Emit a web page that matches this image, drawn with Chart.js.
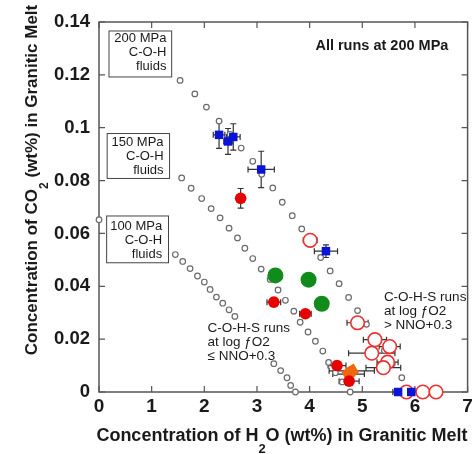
<!DOCTYPE html>
<html>
<head>
    <title>CO2 vs H2O in Granitic Melt</title>
    <script src="https://cdn.jsdelivr.net/npm/chart.js@4.4.0/dist/chart.umd.min.js"></script>
    <style>
        body { margin: 0; background: #fff; }
    </style>
</head>
<body>
    <canvas id="meltChart" width="476" height="454"></canvas>

    <script>
        // C-O-H fluid saturation isobars (model curves)
        const h2o200 = [1.54, 1.82, 2.04, 2.28, 2.49, 2.70, 2.92, 3.09, 3.30, 3.48, 3.67, 3.85, 4.01, 4.21, 4.39, 4.56, 4.74, 4.91, 5.08, 5.24, 5.42, 5.57, 5.75];
        const co2_200 = [0.1179, 0.1128, 0.1078, 0.1025, 0.0975, 0.0923, 0.0873, 0.0824, 0.0772, 0.0718, 0.0667, 0.0617, 0.0561, 0.0509, 0.0458, 0.0410, 0.0358, 0.0308, 0.0256, 0.0208, 0.0157, 0.0107, 0.0054];

        const h2o150 = [1.57, 1.75, 1.95, 2.13, 2.30, 2.47, 2.63, 2.77, 2.92, 3.08, 3.25, 3.40, 3.54, 3.70, 3.82, 3.97, 4.11, 4.25, 4.36, 4.49, 4.62, 4.77];
        const co2_150 = [0.0810, 0.0771, 0.0732, 0.0694, 0.0659, 0.0620, 0.0583, 0.0544, 0.0505, 0.0465, 0.0426, 0.0386, 0.0347, 0.0306, 0.0264, 0.0227, 0.0192, 0.0155, 0.0112, 0.0073, 0.0038, 0];

        const h2o100 = [0, 1.45, 1.59, 1.73, 1.87, 2.00, 2.11, 2.23, 2.35, 2.47, 2.58, 3.32, 3.45, 3.57, 3.64, 3.73];
        const co2_100 = [0.0652, 0.0520, 0.0494, 0.0467, 0.0439, 0.0416, 0.0388, 0.0359, 0.0336, 0.0311, 0.0286, 0.0107, 0.0081, 0.0054, 0.0025, 0];

        // C-O-H runs (blue squares)
        const blueH2o = [2.28, 2.45, 2.55, 3.08, 4.31, 5.68, 5.93];
        const blueCo2 = [0.0973, 0.0948, 0.0965, 0.0842, 0.0533, 0, 0];
        const blueH2oErr = [0.11, 0.08, 0.13, 0.25, 0.22, 0.1, 0.1];
        const blueCo2Err = [0.0051, 0.0049, 0.005, 0.0069, 0.0024, 0, 0];

        // C-O-H-S runs, low fO2 (red filled)
        const redH2o = [2.69, 3.32, 3.92, 4.52, 4.75];
        const redCo2 = [0.0733, 0.0340, 0.0296, 0.0100, 0.0041];
        const redH2oErr = [0.05, 0.13, 0.11, 0.17, 0.19];
        const redCo2Err = [0.0037, 0, 0, 0, 0];

        const greenH2o = [3.35, 3.98, 4.23];
        const greenCo2 = [0.0441, 0.0425, 0.0334];
        const greenH2oErr = [0.12, 0.12, 0.12];

        const orangeH2o = [4.80, 4.74];
        const orangeCo2 = [0.0080, 0.0068];
        const orangeH2oErr = [0.43, 0.3];

        // C-O-H-S runs, high fO2 (red open)
        const openH2o = [4.01, 4.91, 5.24, 5.52, 5.18, 5.48, 5.40, 5.84, 6.15, 6.40];
        const openCo2 = [0.0574, 0.0262, 0.0198, 0.0172, 0.0147, 0.0113, 0.0092, 0, 0, 0];
        const openH2oErr = [0.13, 0.2, 0.22, 0.2, 0.44, 0.2, 0.33, 0.1, 0, 0];
        const openCo2Err = [0.0022, 0, 0, 0, 0, 0, 0, 0, 0, 0];

        const xTickLabels = ['0', '1', '2', '3', '4', '5', '6', '7'];
        const yTickLabels = ['0', '0.02', '0.04', '0.06', '0.08', '0.1', '0.12', '0.14'];

        const FONT = "'Liberation Sans', Arial, Helvetica, sans-serif";
        const INK = '#1a1a1a';

        const pts = (xs, ys) => xs.map((v, i) => ({ x: v, y: ys[i] }));

        // text blocks placed in data units
        const boxes = [
            { lines: ['200 MPa', 'C-O-H', 'fluids'], x0: 0.19, x1: 1.38, y0: 0.1366, y1: 0.1192, tx: 1.28, ty: 0.1338 },
            { lines: ['150 MPa', 'C-O-H', 'fluids'], x0: 0.155, x1: 1.34, y0: 0.0978, y1: 0.0808, tx: 1.226, ty: 0.0943 },
            { lines: ['100 MPa', 'C-O-H', 'fluids'], x0: 0.145, x1: 1.32, y0: 0.0666, y1: 0.0489, tx: 1.2, ty: 0.0628 }
        ];
        const notes = [
            { lines: ['C-O-H-S runs', 'at log \u0192O2', '\u2264 NNO+0.3'], x: 2.06, y: 0.0240 },
            { lines: ['C-O-H-S runs', 'at log \u0192O2', '> NNO+0.3'], x: 5.41, y: 0.0359 }
        ];

        const errorBars = {
            id: 'errorBars',
            beforeDatasetsDraw(chart) {
                const { ctx, chartArea: a, scales: { x, y } } = chart;
                ctx.save();
                // plot frame
                ctx.strokeStyle = '#555';
                ctx.lineWidth = 1.5;
                ctx.strokeRect(a.left, a.top, a.right - a.left, a.bottom - a.top);
                // inward ticks on all four sides
                ctx.lineWidth = 1.2;
                ctx.beginPath();
                x.ticks.forEach(t => {
                    const px = x.getPixelForValue(t.value);
                    ctx.moveTo(px, a.bottom); ctx.lineTo(px, a.bottom - 6);
                    ctx.moveTo(px, a.top); ctx.lineTo(px, a.top + 6);
                });
                y.ticks.forEach(t => {
                    const py = y.getPixelForValue(t.value);
                    ctx.moveTo(a.left, py); ctx.lineTo(a.left + 6, py);
                    ctx.moveTo(a.right, py); ctx.lineTo(a.right - 6, py);
                });
                ctx.stroke();

                ctx.strokeStyle = '#333';
                ctx.lineWidth = 1.2;
                chart.data.datasets.forEach(ds => {
                    if (!ds.xErr && !ds.yErr) return;
                    ds.data.forEach((p, i) => {
                        const px = x.getPixelForValue(p.x);
                        const py = y.getPixelForValue(p.y);
                        const ex = ds.xErr ? ds.xErr[i] : 0;
                        const ey = ds.yErr ? ds.yErr[i] : 0;
                        ctx.beginPath();
                        if (ex) {
                            const l = x.getPixelForValue(p.x - ex);
                            const r = x.getPixelForValue(p.x + ex);
                            ctx.moveTo(l, py); ctx.lineTo(r, py);
                            ctx.moveTo(l, py - 3); ctx.lineTo(l, py + 3);
                            ctx.moveTo(r, py - 3); ctx.lineTo(r, py + 3);
                        }
                        if (ey) {
                            const t = y.getPixelForValue(p.y + ey);
                            const b = y.getPixelForValue(p.y - ey);
                            ctx.moveTo(px, t); ctx.lineTo(px, b);
                            ctx.moveTo(px - 3, t); ctx.lineTo(px + 3, t);
                            ctx.moveTo(px - 3, b); ctx.lineTo(px + 3, b);
                        }
                        ctx.stroke();
                    });
                });
                ctx.restore();
            }
        };

        function drawSubText(ctx, parts, size, subSize) {
            // parts: [text, isSubscript]; drawn centred on the current origin
            let total = 0;
            const widths = parts.map(([s, sub]) => {
                ctx.font = `bold ${sub ? subSize : size}px ${FONT}`;
                const w = ctx.measureText(s).width;
                total += w;
                return w;
            });
            let cx = -total / 2;
            parts.forEach(([s, sub], i) => {
                ctx.font = `bold ${sub ? subSize : size}px ${FONT}`;
                ctx.fillText(s, cx, sub ? size * 0.72 : 0);
                cx += widths[i];
            });
        }

        const labels = {
            id: 'labels',
            afterDatasetsDraw(chart) {
                const { ctx, chartArea: a, scales: { x, y } } = chart;
                ctx.save();
                ctx.fillStyle = INK;
                ctx.textBaseline = 'middle';

                boxes.forEach(b => {
                    const l = x.getPixelForValue(b.x0), r = x.getPixelForValue(b.x1);
                    const t = y.getPixelForValue(b.y0), btm = y.getPixelForValue(b.y1);
                    ctx.fillStyle = '#fff';
                    ctx.fillRect(l, t, r - l, btm - t);
                    ctx.strokeStyle = '#444';
                    ctx.lineWidth = 1;
                    ctx.strokeRect(l, t, r - l, btm - t);
                    ctx.fillStyle = INK;
                    ctx.font = `13px ${FONT}`;
                    ctx.textAlign = 'right';
                    const tx = x.getPixelForValue(b.tx);
                    const ty = y.getPixelForValue(b.ty);
                    b.lines.forEach((s, i) => ctx.fillText(s, tx, ty + i * 14));
                });

                ctx.textAlign = 'left';
                ctx.font = `13.5px ${FONT}`;
                notes.forEach(n => {
                    const nx = x.getPixelForValue(n.x);
                    const ny = y.getPixelForValue(n.y);
                    n.lines.forEach((s, i) => ctx.fillText(s, nx, ny + i * 14));
                });

                ctx.font = `bold 14.5px ${FONT}`;
                ctx.fillText('All runs at 200 MPa', x.getPixelForValue(4.11), y.getPixelForValue(0.131));

                // axis titles with subscripts
                ctx.save();
                ctx.translate(282, 436);
                drawSubText(ctx, [['Concentration of H', false], ['2', true], ['O (wt%) in Granitic Melt', false]], 18, 13);
                ctx.restore();

                ctx.save();
                ctx.translate(32, 180);
                ctx.rotate(-Math.PI / 2);
                drawSubText(ctx, [['Concentration of CO', false], ['2', true], [' (wt%) in Granitic Melt', false]], 17, 12);
                ctx.restore();

                ctx.restore();
            }
        };

        const ctx = document.getElementById('meltChart').getContext('2d');
        const meltChart = new Chart(ctx, {
            type: 'scatter',
            data: {
                datasets: [
                    {
                        label: 'Blue runs', data: pts(blueH2o, blueCo2), xErr: blueH2oErr, yErr: blueCo2Err,
                        pointStyle: 'rect', pointRadius: 6, backgroundColor: '#0a14d8', borderColor: '#0a14d8', borderWidth: 0, order: 1
                    },
                    {
                        label: 'Low fO2', data: pts(redH2o, redCo2), xErr: redH2oErr, yErr: redCo2Err,
                        pointRadius: 5.8, backgroundColor: '#e60000', borderColor: '#e60000', borderWidth: 0, order: 2
                    },
                    {
                        label: 'Green runs', data: pts(greenH2o, greenCo2), xErr: greenH2oErr,
                        pointRadius: 8, backgroundColor: '#118c1c', borderColor: '#118c1c', borderWidth: 0, order: 3
                    },
                    {
                        label: 'Orange runs', data: pts(orangeH2o, orangeCo2), xErr: orangeH2oErr,
                        pointStyle: 'rectRot', pointRadius: 7.5, rotation: 15, backgroundColor: '#f0680e', borderColor: '#f0680e', borderWidth: 0, order: 4
                    },
                    {
                        label: 'High fO2', data: pts(openH2o, openCo2), xErr: openH2oErr, yErr: openCo2Err,
                        pointRadius: 6.8, backgroundColor: '#fff', borderColor: '#f03030', borderWidth: 1.6, order: 5
                    },
                    {
                        label: '200 MPa', data: pts(h2o200, co2_200),
                        pointRadius: 2.8, backgroundColor: '#fff', borderColor: '#6a6a6a', borderWidth: 1.2, order: 6
                    },
                    {
                        label: '150 MPa', data: pts(h2o150, co2_150),
                        pointRadius: 2.8, backgroundColor: '#fff', borderColor: '#6a6a6a', borderWidth: 1.2, order: 7
                    },
                    {
                        label: '100 MPa', data: pts(h2o100, co2_100),
                        pointRadius: 2.8, backgroundColor: '#fff', borderColor: '#6a6a6a', borderWidth: 1.2, order: 8
                    }
                ].map(ds => Object.assign(ds, { clip: false, pointHoverRadius: ds.pointRadius }))
            },
            options: {
                responsive: false,
                animation: false,
                events: [],
                layout: { padding: { top: 22, right: 7, left: 0, bottom: 0 } },
                plugins: { legend: { display: false }, tooltip: { enabled: false } },
                scales: {
                    x: {
                        type: 'linear', min: 0, max: 7,
                        grid: { display: false, drawTicks: false },
                        border: { display: false },
                        ticks: {
                            stepSize: 1, padding: 3, color: INK,
                            font: { family: FONT, size: 19, weight: 'bold' },
                            callback: (v, i) => xTickLabels[i]
                        },
                        afterFit: s => { s.height = 62; s.paddingLeft = 0; s.paddingRight = 0; }
                    },
                    y: {
                        type: 'linear', min: 0, max: 0.14,
                        grid: { display: false, drawTicks: false },
                        border: { display: false },
                        ticks: {
                            stepSize: 0.02, padding: 9, color: INK,
                            font: { family: FONT, size: 18.5, weight: 'bold' },
                            callback: (v, i) => yTickLabels[i]
                        },
                        afterFit: s => { s.width = 99; s.paddingTop = 0; s.paddingBottom = 0; }
                    }
                }
            },
            plugins: [errorBars, labels]
        });
    </script>
</body>
</html>
